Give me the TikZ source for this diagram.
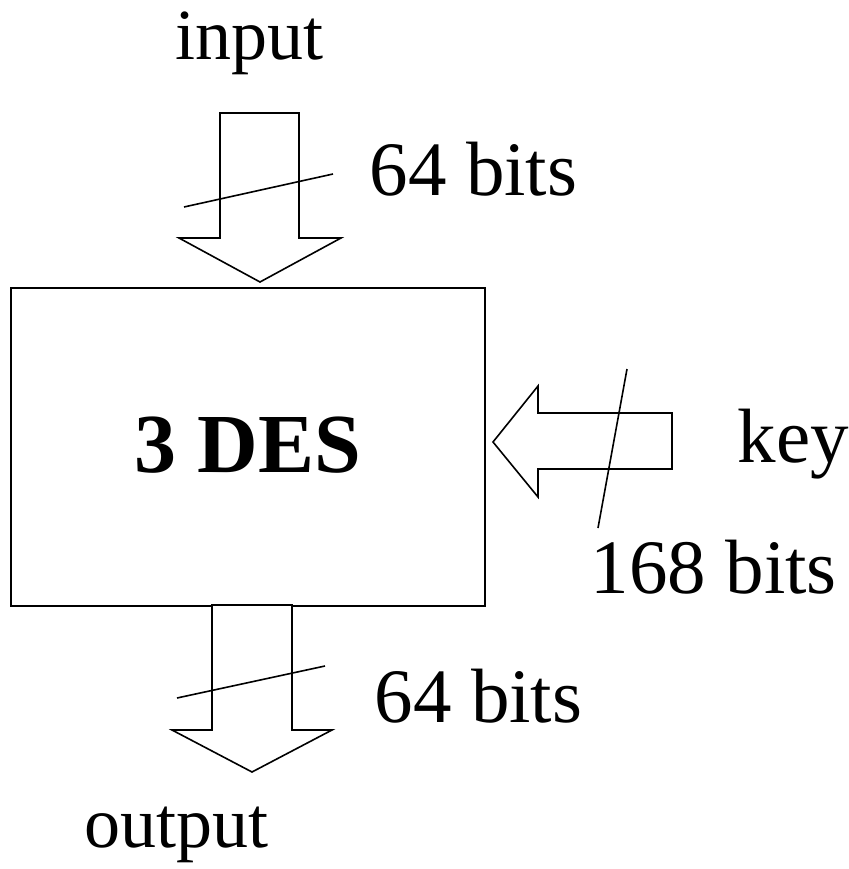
\documentclass[tikz,border=0pt]{standalone}
\usepackage{fontspec}
\setmainfont{Liberation Serif}
\begin{document}
\begin{tikzpicture}[x=1pt,y=-1pt,line width=1.6pt,line join=miter,
  lbl/.style={inner sep=0pt,anchor=base west,font=\fontsize{77}{90}\selectfont},
  iolbl/.style={inner sep=0pt,anchor=base west,font=\fontsize{72}{86}\selectfont},
  blockarrow/.style={draw,fill=white},
  busline/.style={draw,line width=1.6pt}]
\useasboundingbox (0,0) rectangle (848,869);

% cipher block
\node[draw,minimum width=474pt,minimum height=318pt,inner sep=0pt,anchor=north west] (des) at (10,287) {};
\node[inner sep=0pt,anchor=base west,font=\fontsize{84}{96}\selectfont\bfseries] (title) at (134,472) {3 DES};

% input arrow (64 bits)
\path[blockarrow] (220,113) -- (299,113) -- (299,238) -- (341,238) -- (260,282) -- (179,238) -- (220,238) -- cycle;
\path[busline] (184,207) -- (333,174);
\node[iolbl] (in) at (175,60) {input};
\node[lbl] (inbits) at (369,195) {64 bits};

% key arrow (168 bits)
\path[blockarrow] (672,413) -- (672,469) -- (538,469) -- (538,497) -- (493,442) -- (538,386) -- (538,413) -- cycle;
\path[busline] (627,369) -- (598,528);
\node[lbl] (key) at (737,462) {key};
\node[lbl] (keybits) at (590,593) {168 bits};

% output arrow (64 bits)
\path[blockarrow] (212,605) -- (292,605) -- (292,730) -- (332,730) -- (252,772) -- (172,730) -- (212,730) -- cycle;
\path[busline] (177,698) -- (325,666);
\node[iolbl] (out) at (84,847) {output};
\node[lbl] (outbits) at (374,722) {64 bits};
\end{tikzpicture}
\end{document}
